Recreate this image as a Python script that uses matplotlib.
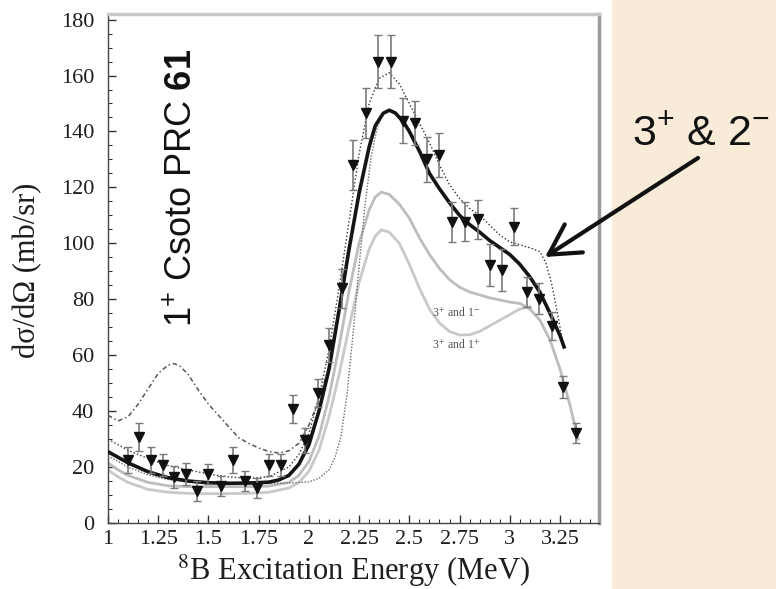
import matplotlib
matplotlib.use("Agg")
import matplotlib.pyplot as plt
from matplotlib.patches import Rectangle
from matplotlib.ticker import MultipleLocator, FixedLocator, FixedFormatter

plt.rcParams["font.family"] = ["Liberation Serif", "DejaVu Serif"]
plt.rcParams["mathtext.fontset"] = "custom"
plt.rcParams["mathtext.rm"] = "Liberation Sans"
plt.rcParams["mathtext.it"] = "Liberation Sans:italic"
plt.rcParams["mathtext.bf"] = "Liberation Sans:bold"

# ---- measured cross sections (8B excitation) ----
energy = [1.10, 1.155, 1.215, 1.275, 1.33, 1.39, 1.445, 1.50, 1.56, 1.62,
          1.68, 1.74, 1.80, 1.86, 1.92, 1.98, 2.045, 2.10, 2.165, 2.22,
          2.285, 2.345, 2.41, 2.47, 2.53, 2.59, 2.65, 2.71, 2.775, 2.84,
          2.90, 2.96, 3.02, 3.085, 3.145, 3.21, 3.265, 3.33]
xsec = [22.5, 30.8, 22.5, 20.8, 16.5, 17.5, 11.4, 17.5, 13.2, 22.5,
        15.0, 12.5, 20.8, 20.8, 40.6, 29.5, 46.5, 63.7, 84.0, 128.0,
        146.7, 165.0, 165.0, 143.8, 143.0, 130.0, 131.6, 107.6, 107.7, 108.6,
        92.3, 90.6, 106.0, 82.6, 80.2, 70.4, 48.7, 32.2]
xsec_err = [4.5, 5.0, 4.5, 4.0, 4.0, 4.0, 3.5, 3.5, 3.5, 4.5,
            3.5, 3.5, 4.0, 4.0, 5.0, 4.5, 5.0, 6.0, 7.0, 9.0,
            9.0, 9.5, 9.5, 8.0, 8.0, 8.0, 8.0, 7.0, 7.0, 7.0,
            7.5, 7.5, 6.5, 5.5, 5.5, 5.0, 4.0, 3.5]

# ---- calculations ----
full_x = [1.00, 1.10, 1.20, 1.30, 1.40, 1.50, 1.60, 1.70, 1.80, 1.85, 1.90, 1.95,
          2.00, 2.05, 2.10, 2.15, 2.20, 2.25, 2.30, 2.33, 2.37, 2.40, 2.43, 2.47,
          2.50, 2.55, 2.60, 2.65, 2.70, 2.75, 2.80, 2.85, 2.90, 2.95, 3.00, 3.05,
          3.10, 3.15, 3.20, 3.25, 3.27]
full_y = [25.5, 21.5, 18.3, 16.2, 15.0, 14.4, 14.2, 14.3, 14.6, 15.4, 17.0, 21.0,
          28.0, 40.0, 55.0, 76.0, 98.0, 118.0, 134.5, 142.0, 146.5, 147.6, 146.6, 143.5,
          140.0, 133.0, 125.0, 119.5, 114.5, 110.0, 106.7, 104.0, 101.0, 98.5, 96.0, 92.5,
          88.0, 82.5, 75.0, 67.0, 63.0]

pm_x = [1.00, 1.10, 1.20, 1.30, 1.40, 1.50, 1.60, 1.70, 1.80, 1.90, 1.95, 2.00,
        2.05, 2.10, 2.15, 2.20, 2.25, 2.30, 2.35, 2.40, 2.45, 2.50, 2.55, 2.60,
        2.65, 2.70, 2.75, 2.80, 2.85, 2.90, 2.95, 3.00, 3.05, 3.10, 3.15, 3.18,
        3.21, 3.24, 3.27]
pm_y = [30.0, 26.0, 23.0, 20.5, 19.0, 17.5, 16.5, 16.0, 16.5, 20.0, 24.5, 32.0,
        45.0, 62.0, 84.0, 108.0, 132.0, 150.0, 159.0, 161.0, 157.0, 150.0, 143.0, 136.0,
        128.0, 121.0, 116.0, 112.5, 110.0, 106.5, 103.0, 100.5, 99.5, 98.4, 97.0, 93.0,
        85.0, 74.0, 62.0]

csoto_x = [1.00, 1.05, 1.10, 1.15, 1.20, 1.25, 1.30, 1.33, 1.36, 1.40, 1.45, 1.50,
           1.55, 1.60, 1.65, 1.70, 1.75, 1.80, 1.85, 1.90, 1.95, 2.00, 2.05, 2.10,
           2.15, 2.20]
csoto_y = [38.5, 36.5, 38.0, 42.5, 48.0, 53.5, 56.5, 57.0, 56.0, 53.0, 47.5, 42.5,
           38.5, 34.5, 30.5, 28.5, 26.8, 25.6, 25.0, 25.8, 28.5, 35.0, 44.0, 56.0,
           75.0, 97.0]

late_x = [1.00, 1.10, 1.20, 1.30, 1.40, 1.50, 1.60, 1.70, 1.80, 1.90, 2.00, 2.05,
          2.10, 2.13, 2.16, 2.19, 2.22, 2.25, 2.28, 2.31, 2.34, 2.37, 2.40]
late_y = [24.0, 20.0, 17.2, 15.5, 14.6, 14.2, 14.1, 14.1, 14.2, 14.3, 14.7, 16.0,
          19.0, 23.5, 31.0, 46.0, 68.0, 92.0, 114.0, 131.0, 141.5, 146.5, 147.5]

g1_x = [1.00, 1.05, 1.10, 1.20, 1.30, 1.40, 1.50, 1.60, 1.70, 1.80, 1.90, 1.95,
        2.00, 2.05, 2.10, 2.15, 2.20, 2.25, 2.30, 2.33, 2.36, 2.40, 2.45, 2.50,
        2.55, 2.60, 2.65, 2.70, 2.75, 2.80, 2.90, 3.00, 3.05, 3.10, 3.15, 3.20,
        3.25, 3.30, 3.34]
g1_y = [21.5, 19.0, 17.0, 14.5, 13.3, 13.0, 13.0, 13.0, 13.0, 13.2, 14.5, 17.0,
        22.0, 31.0, 45.0, 63.0, 83.0, 100.0, 112.0, 116.5, 118.3, 117.5, 114.0, 109.0,
        102.0, 96.0, 91.0, 87.0, 84.3, 82.6, 80.5, 79.0, 78.5, 76.5, 72.5, 65.5,
        55.0, 42.0, 30.0]

g2_x = [1.00, 1.05, 1.10, 1.20, 1.30, 1.40, 1.50, 1.60, 1.70, 1.80, 1.90, 1.95,
        2.00, 2.05, 2.10, 2.15, 2.20, 2.25, 2.30, 2.33, 2.36, 2.40, 2.45, 2.50,
        2.55, 2.60, 2.65, 2.70, 2.75, 2.80, 2.85, 2.90, 2.95, 3.00, 3.05, 3.10]
g2_y = [19.0, 16.5, 14.5, 12.0, 11.0, 10.6, 10.5, 10.5, 10.6, 11.0, 12.5, 14.5,
        18.5, 26.0, 38.0, 53.0, 70.0, 86.0, 98.0, 102.5, 104.8, 104.0, 100.0, 92.5,
        84.0, 76.5, 71.5, 68.5, 67.2, 67.3, 68.5, 70.5, 72.5, 74.5, 76.5, 77.3]

xtick_vals = [1, 1.25, 1.5, 1.75, 2, 2.25, 2.5, 2.75, 3, 3.25]
xtick_text = ["1", "1.25", "1.5", "1.75", "2", "2.25", "2.5", "2.75", "3", "3.25"]
ytick_vals = [0, 20, 40, 60, 80, 100, 120, 140, 160, 180]

W, H = 776, 589
fig = plt.figure(figsize=(W / 100, H / 100), dpi=100, facecolor="#F8EBD7")
fig.add_artist(Rectangle((0, 0), 612 / W, 1, transform=fig.transFigure,
                         facecolor="white", edgecolor="none", zorder=-5))

ax = fig.add_axes([108 / W, 66 / H, 491 / W, 509 / H])
ax.set_facecolor("white")
ax.set_xlim(1.0, 3.444)
ax.set_ylim(0, 182)

ax.plot(g2_x, g2_y, color="#c9c9c9", lw=2.0, zorder=2)
ax.plot(g1_x, g1_y, color="#bdbdbd", lw=2.0, zorder=2)
ax.plot(late_x, late_y, color="#6a6a6a", lw=1.0, ls=(0, (1, 1.2)), zorder=3)
ax.plot(csoto_x, csoto_y, color="#555555", lw=1.1, ls=(0, (3, 1.8, 1, 1.8)), zorder=3)
ax.plot(pm_x, pm_y, color="#333333", lw=1.0, ls=(0, (1, 1.6)), zorder=3)
ax.plot(full_x, full_y, color="#151515", lw=2.6, zorder=4)
ax.errorbar(energy, xsec, yerr=xsec_err, fmt="v", color="#111111", ms=7.5,
            ecolor="#7a7a7a", elinewidth=1.2, capsize=3, capthick=1.0, zorder=5)

ax.text(2.613, 75.1, "3$^{+}$ and 1$^{-}$", fontsize=8.5, color="#555555",
        ha="left", va="center", math_fontfamily="stix")
ax.text(2.613, 63.7, "3$^{+}$ and 1$^{+}$", fontsize=8.5, color="#555555",
        ha="left", va="center", math_fontfamily="stix")

# axes styling
ax.xaxis.set_major_locator(FixedLocator(xtick_vals))
ax.xaxis.set_major_formatter(FixedFormatter(xtick_text))
ax.xaxis.set_minor_locator(MultipleLocator(0.05))
ax.yaxis.set_major_locator(FixedLocator(ytick_vals))
ax.yaxis.set_minor_locator(MultipleLocator(5))
ax.tick_params(axis="both", which="both", direction="in", colors="#333333")
ax.tick_params(axis="both", which="major", length=6, width=1.0, labelsize=16,
               labelcolor="#1e1e1e")
ax.tick_params(axis="both", which="minor", length=3, width=0.8)
ax.tick_params(axis="x", which="major", pad=5)
ax.tick_params(axis="y", which="major", pad=10)
for side in ("left", "bottom"):
    ax.spines[side].set_color("#444444")
    ax.spines[side].set_linewidth(1.0)
ax.spines["top"].set_color("#c8c8c8")
ax.spines["top"].set_linewidth(2.5)
ax.spines["right"].set_color("#9a9a9a")
ax.spines["right"].set_linewidth(2.5)

fig.text(353 / W, 1 - 580 / H, "$^{8}$B Excitation Energy (MeV)", fontsize=22,
         color="#1e1e1e", ha="center", va="baseline", math_fontfamily="stix")
fig.text(28 / W, 1 - 270 / H, "dσ/dΩ (mb/sr)", fontsize=22, color="#1e1e1e",
         rotation=90, ha="center", va="center")

fig.text(182 / W, 1 - 188 / H, "1$^{+}$ Csoto PRC $\\mathbf{61}$", fontsize=26,
         family="Liberation Sans", color="#111111", rotation=90,
         ha="center", va="center")

fig.text(632 / W, 1 - 145 / H, "3$^{+}$ & 2$^{-}$", fontsize=31,
         family="Liberation Sans", color="#111111", ha="left", va="baseline")
ax.annotate("", xy=(545 / W, 1 - 257 / H), xytext=(698 / W, 1 - 158 / H),
            xycoords="figure fraction", textcoords="figure fraction",
            annotation_clip=False,
            arrowprops=dict(arrowstyle="->,head_length=0.9,head_width=0.5",
                            lw=3, color="#111111", mutation_scale=24,
                            shrinkA=0, shrinkB=0))

fig.savefig("out.png", dpi=100, facecolor=fig.get_facecolor())
